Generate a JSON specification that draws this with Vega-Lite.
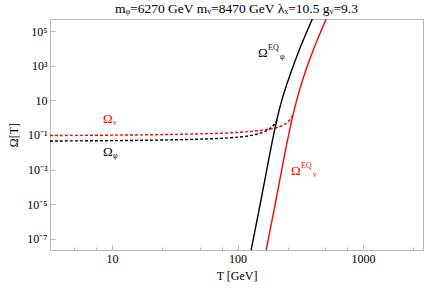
{
  "$schema": "https://vega.github.io/schema/vega-lite/v6.json",
  "width": 373,
  "height": 231,
  "autosize": {"type": "none"},
  "padding": {"left": 50, "top": 19, "right": 2, "bottom": 40},
  "background": "white",
  "config": {
    "view": {"stroke": "#b8b8b8", "strokeWidth": 1},
    "font": "Liberation Serif",
    "axis": {"domain": false, "grid": false, "tickColor": "#b8b8b8", "labelColor": "black", "titleColor": "black", "labelFont": "Liberation Serif", "titleFont": "Liberation Serif", "labelFontSize": 12, "titleFontSize": 12, "titleFontWeight": "normal"}
  },
  "title": {"text": "mᵩ=6270 GeV mᵥ=8470 GeV λₓ=10.5 gᵥ=9.3", "font": "Liberation Serif", "fontSize": 13.5, "fontWeight": "normal", "color": "black", "offset": 4, "anchor": "middle"},
  "datasets": {
    "curves": [
      {"species": "phi", "kind": "EQ", "T": 119.0, "Omega": 1.57e-9},
      {"species": "phi", "kind": "EQ", "T": 128.1, "Omega": 2.25e-8},
      {"species": "phi", "kind": "EQ", "T": 153.9, "Omega": 1.75e-5},
      {"species": "phi", "kind": "EQ", "T": 182.5, "Omega": 0.0136},
      {"species": "phi", "kind": "EQ", "T": 216.5, "Omega": 5.42},
      {"species": "phi", "kind": "EQ", "T": 261.0, "Omega": 294},
      {"species": "phi", "kind": "EQ", "T": 314.8, "Omega": 12200},
      {"species": "phi", "kind": "EQ", "T": 394.0, "Omega": 507000},
      {"species": "phi", "kind": "EQ", "T": 440.0, "Omega": 3270000},
      {"species": "nu", "kind": "EQ", "T": 156.8, "Omega": 1.57e-9},
      {"species": "nu", "kind": "EQ", "T": 168.7, "Omega": 2.25e-8},
      {"species": "nu", "kind": "EQ", "T": 202.7, "Omega": 1.75e-5},
      {"species": "nu", "kind": "EQ", "T": 240.0, "Omega": 0.0136},
      {"species": "nu", "kind": "EQ", "T": 286.0, "Omega": 5.42},
      {"species": "nu", "kind": "EQ", "T": 338.0, "Omega": 294},
      {"species": "nu", "kind": "EQ", "T": 407.1, "Omega": 12200},
      {"species": "nu", "kind": "EQ", "T": 508.0, "Omega": 507000},
      {"species": "nu", "kind": "EQ", "T": 568.0, "Omega": 3270000},
      {"species": "phi", "kind": "yield", "T": 3.2, "Omega": 0.045},
      {"species": "phi", "kind": "yield", "T": 8.02, "Omega": 0.0462},
      {"species": "phi", "kind": "yield", "T": 20.1, "Omega": 0.0494},
      {"species": "phi", "kind": "yield", "T": 50.2, "Omega": 0.0564},
      {"species": "phi", "kind": "yield", "T": 87.1, "Omega": 0.0671},
      {"species": "phi", "kind": "yield", "T": 125.8, "Omega": 0.0875},
      {"species": "phi", "kind": "yield", "T": 156.8, "Omega": 0.1306},
      {"species": "phi", "kind": "yield", "T": 181.6, "Omega": 0.2223},
      {"species": "phi", "kind": "yield", "T": 199.0, "Omega": 0.4325},
      {"species": "phi", "kind": "yield", "T": 209.0, "Omega": 0.961},
      {"species": "nu", "kind": "yield", "T": 3.2, "Omega": 0.0935},
      {"species": "nu", "kind": "yield", "T": 8.02, "Omega": 0.0961},
      {"species": "nu", "kind": "yield", "T": 20.1, "Omega": 0.1027},
      {"species": "nu", "kind": "yield", "T": 50.2, "Omega": 0.1143},
      {"species": "nu", "kind": "yield", "T": 87.1, "Omega": 0.1306},
      {"species": "nu", "kind": "yield", "T": 125.8, "Omega": 0.1592},
      {"species": "nu", "kind": "yield", "T": 165.6, "Omega": 0.1945},
      {"species": "nu", "kind": "yield", "T": 206.4, "Omega": 0.254},
      {"species": "nu", "kind": "yield", "T": 239.0, "Omega": 0.4046},
      {"species": "nu", "kind": "yield", "T": 266.9, "Omega": 0.841},
      {"species": "nu", "kind": "yield", "T": 279.0, "Omega": 1.87}
    ],
    "labels": [
      {"species": "nu", "T": 8.47, "Omega": 0.841, "base": "Ω", "sup": "", "sub": "ν"},
      {"species": "phi", "T": 8.47, "Omega": 0.0104, "base": "Ω", "sup": "", "sub": "φ"},
      {"species": "phi", "T": 145.6, "Omega": 5495, "base": "Ω", "sup": "EQ", "sub": "φ"},
      {"species": "nu", "T": 266.9, "Omega": 0.00083, "base": "Ω", "sup": "EQ", "sub": "ν"}
    ]
  },
  "encoding": {
    "x": {"field": "T", "type": "quantitative",
      "scale": {"type": "log", "domain": [3.2, 3000]},
      "axis": {"title": "T [GeV]", "values": [5, 7.5, 10, 25, 50, 75, 100, 250, 500, 750, 1000, 2500],
        "labelExpr": "datum.value == 10 || datum.value == 100 || datum.value == 1000 ? format(datum.value, 'd') : ''",
        "tickSize": {"condition": {"test": "datum.value == 10 || datum.value == 100 || datum.value == 1000", "value": -5}, "value": -3},
        "labelPadding": 8, "titlePadding": 4, "labelFlush": false, "labelOverlap": false}},
    "y": {"field": "Omega", "type": "quantitative",
      "scale": {"type": "log", "domain": [2.25e-8, 507000]},
      "axis": {"title": "Ω[T]", "values": [1e-7, 1e-5, 0.001, 0.1, 10, 1000, 100000],
        "labelExpr": "round(log(datum.value)/LN10) == 1 ? '10' : '10' + ['⁻⁷','','⁻⁵','','⁻³','','⁻¹','','','','³','','⁵'][round(log(datum.value)/LN10) + 7]",
        "tickSize": -5, "labelPadding": 8, "titlePadding": 6, "labelOverlap": false, "labelFlush": false}},
    "color": {"field": "species", "type": "nominal", "scale": {"domain": ["phi", "nu"], "range": ["black", "#ff0000"]}, "legend": null}
  },
  "layer": [
    {
      "data": {"name": "curves"},
      "mark": {"type": "line", "strokeWidth": 1.4, "clip": true, "interpolate": "basis"},
      "encoding": {
        "strokeDash": {"field": "kind", "type": "nominal", "scale": {"domain": ["EQ", "yield"], "range": [[1, 0], [3, 2]]}, "legend": null}
      }
    },
    {
      "data": {"name": "labels"},
      "mark": {"type": "text", "align": "left", "baseline": "middle", "fontSize": 13, "font": "Liberation Serif"},
      "encoding": {"text": {"field": "base"}}
    },
    {
      "data": {"name": "labels"},
      "mark": {"type": "text", "align": "left", "baseline": "middle", "fontSize": 8, "dx": 10, "dy": -5, "font": "Liberation Serif"},
      "encoding": {"text": {"field": "sup"}}
    },
    {
      "data": {"name": "labels"},
      "transform": [{"filter": "datum.sup == ''"}],
      "mark": {"type": "text", "align": "left", "baseline": "middle", "fontSize": 8, "dx": 10, "dy": 4, "font": "Liberation Serif"},
      "encoding": {"text": {"field": "sub"}}
    },
    {
      "data": {"name": "labels"},
      "transform": [{"filter": "datum.sup != ''"}],
      "mark": {"type": "text", "align": "left", "baseline": "middle", "fontSize": 8, "dx": 22, "dy": 4, "font": "Liberation Serif"},
      "encoding": {"text": {"field": "sub"}}
    }
  ]
}
